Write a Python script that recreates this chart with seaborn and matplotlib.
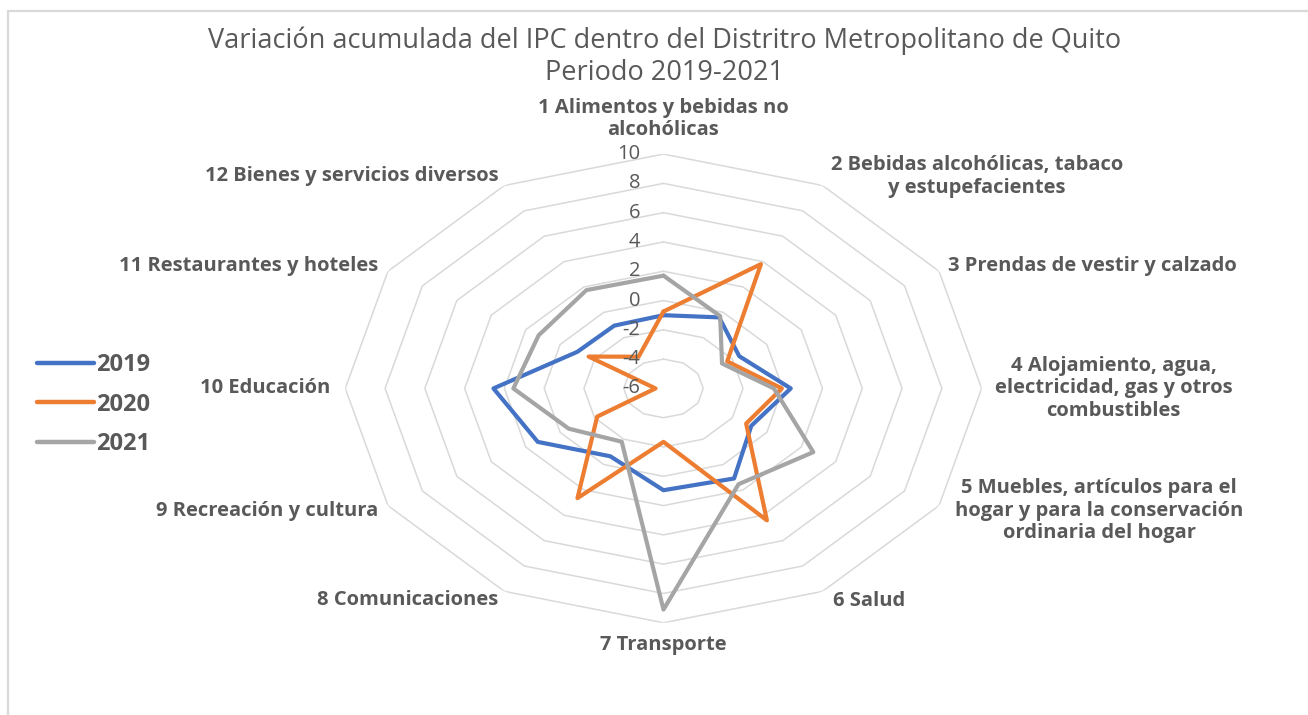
import numpy as np
import pandas as pd
import matplotlib
matplotlib.use("Agg")
import matplotlib.pyplot as plt
from matplotlib.lines import Line2D
import seaborn as sns

# categories of the CPI basket
categorias = [
    "1 Alimentos y bebidas no\nalcohólicas",
    "2 Bebidas alcohólicas, tabaco\ny estupefacientes",
    "3 Prendas de vestir y calzado",
    "4 Alojamiento, agua,\nelectricidad, gas y otros\ncombustibles",
    "5 Muebles, artículos para el\nhogar y para la conservación\nordinaria del hogar",
    "6 Salud",
    "7 Transporte",
    "8 Comunicaciones",
    "9 Recreación y cultura",
    "10 Educación",
    "11 Restaurantes y hoteles",
    "12 Bienes y servicios diversos",
]

anios = ["2019", "2020", "2021"]
v2019 = [-1.0, -0.4, -1.6, 0.4, -0.9, 1.1, 0.95, -0.65, 1.3, 2.55, -1.0, -1.05]
v2020 = [-0.75, 3.8, -2.3, -0.05, -1.2, 4.4, -2.35, 2.65, -2.15, -5.6, -1.65, -3.5]
v2021 = [1.7, -0.3, -2.6, -0.45, 2.7, 1.55, 9.1, -1.8, -0.5, 1.55, 1.25, 1.75]

ticks_r = [-6, -4, -2, 0, 2, 4, 6, 8, 10]
colores = ["#4472C4", "#ED7D31", "#A5A5A5"]

sns.set_style("white")
plt.rcParams["font.family"] = ["Open Sans", "DejaVu Sans"]
gris_txt = "#595959"

n = len(categorias)
theta = np.linspace(0, 2 * np.pi, n, endpoint=False)
theta_c = np.append(theta, 2 * np.pi)

filas = []
for anio, vals in zip(anios, [v2019, v2020, v2021]):
    vals_c = vals + [vals[0]]
    for t, v in zip(theta_c, vals_c):
        filas.append({"theta": t, "valor": v, "anio": anio})
df = pd.DataFrame(filas)

fig = plt.figure(figsize=(13.08, 7.15), dpi=100)
ax = fig.add_axes([0.264, 0.129, 0.4865, 0.6555], projection="polar")
ax.set_theta_zero_location("N")
ax.set_theta_direction(-1)

# polygon gridlines
for r in ticks_r[1:]:
    ax.plot(theta_c, [r] * len(theta_c), color="#d9d9d9", lw=1.1, zorder=0)

sns.lineplot(data=df, x="theta", y="valor", hue="anio", palette=colores,
             sort=False, estimator=None, lw=3, ax=ax, legend=False, zorder=3)

ax.set_ylim(-6, 10)
ax.set_aspect("auto")
ax.grid(False)
ax.spines["polar"].set_visible(False)
ax.set_xticks([])
ax.set_yticks([])
ax.set_xlabel("")
ax.set_ylabel("")

# radial tick labels
for r in ticks_r:
    ax.annotate(str(r), xy=(0, r), xytext=(-23, 0), textcoords="offset pixels",
                ha="right", va="center", fontsize=14.5, color=gris_txt)

# category labels
ajustes = [
    ((0, 14), "center", "bottom"),
    ((8, 9), "left", "center"),
    ((9, 5), "left", "center"),
    ((13, 0), "left", "center"),
    ((16, -5), "left", "center"),
    ((10, -10), "left", "center"),
    ((0, -12), "center", "top"),
    ((-6, -9), "right", "center"),
    ((-10, -5), "right", "center"),
    ((-15, 0), "right", "center"),
    ((-10, 5), "right", "center"),
    ((-6, 9), "right", "center"),
]
for t, lab, (off, ha, va) in zip(theta, categorias, ajustes):
    ax.annotate(lab, xy=(t, 10), xytext=off, textcoords="offset pixels",
                ha=ha, va=va, multialignment="center", fontsize=14.5,
                fontweight="bold", color=gris_txt, annotation_clip=False,
                linespacing=1.15)

fig.text(0.508, 0.921, "Variación acumulada del IPC dentro del Distritro Metropolitano de Quito\nPeriodo 2019-2021",
         ha="center", va="center", fontsize=19.5, color=gris_txt, linespacing=1.2)

handles = [Line2D([0], [0], color=c, lw=3.2) for c in colores]
leg = fig.legend(handles, anios, loc="center left", bbox_to_anchor=(0.012, 0.434),
                 frameon=False, handlelength=2.4, handletextpad=0.1,
                 labelspacing=0.65, prop={"size": 17, "weight": "bold"})
for txt in leg.get_texts():
    txt.set_color(gris_txt)

# outer chart border
fig.add_artist(Line2D([8 / 1308, 8 / 1308], [0, 1 - 11 / 715], color="#d9d9d9", lw=1.6))
fig.add_artist(Line2D([8 / 1308, 1], [1 - 11 / 715, 1 - 11 / 715], color="#d9d9d9", lw=1.6))

fig.savefig("out.png", dpi=100, facecolor="white")
